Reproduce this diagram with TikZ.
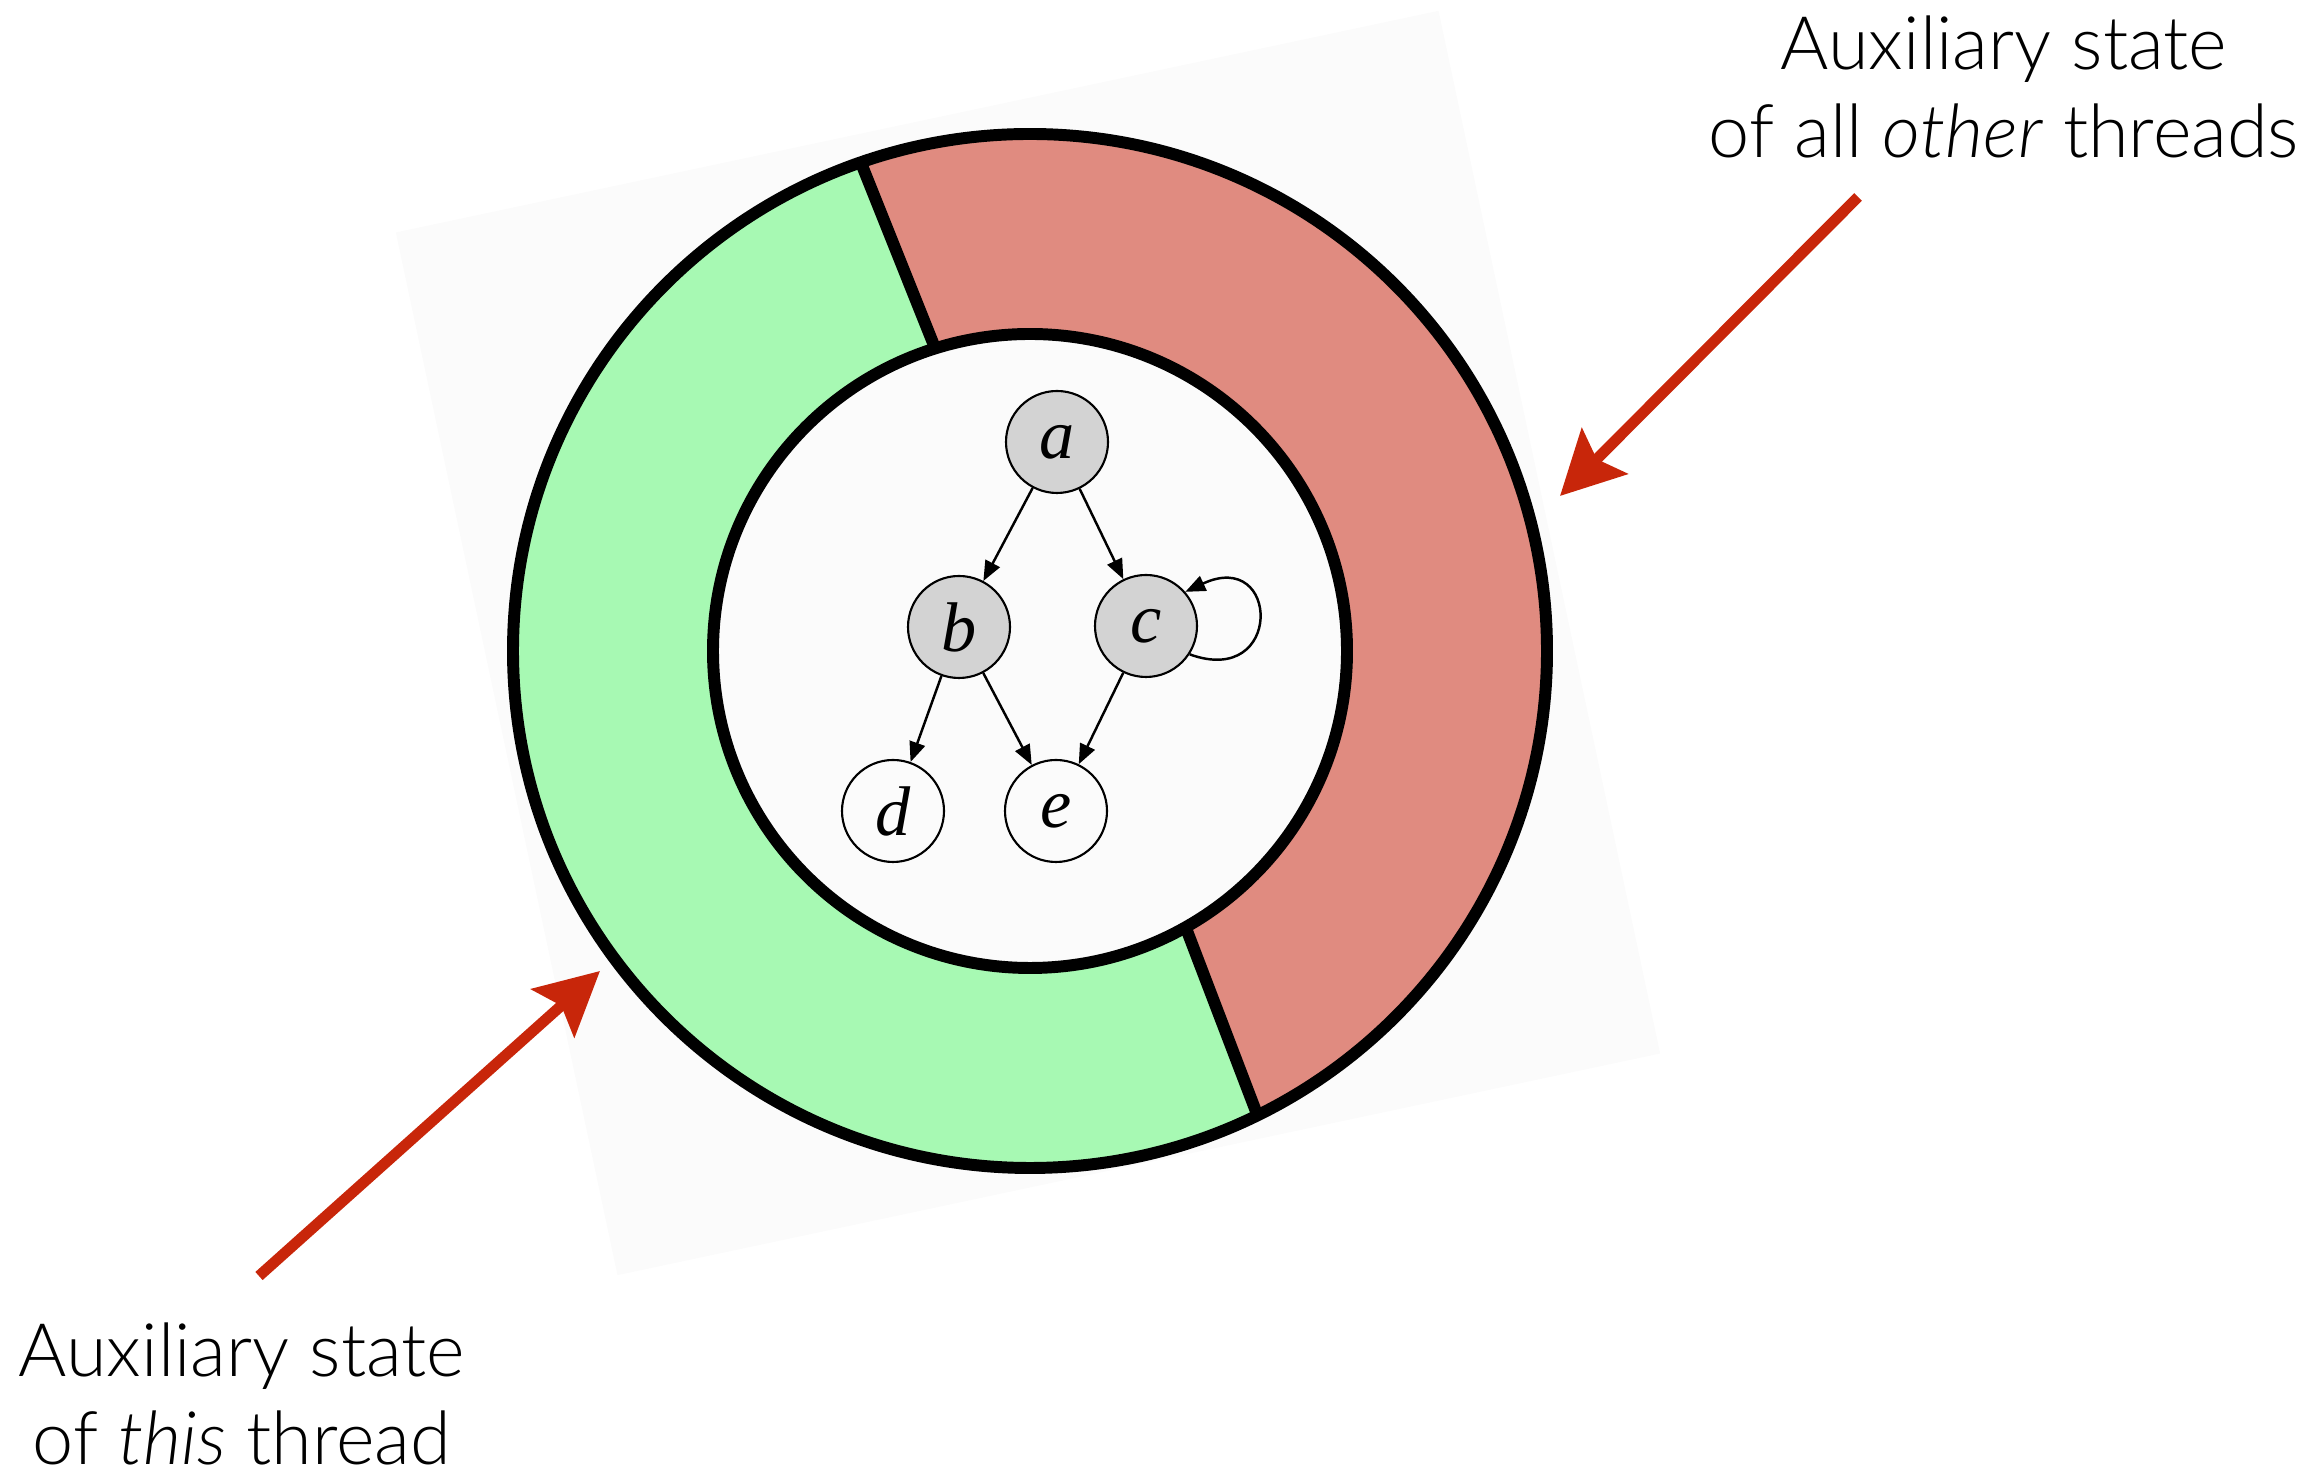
\documentclass[tikz,border=0pt]{standalone}
\usepackage{fontspec}
\IfFontExistsTF{Lato Light}{%
  \IfFontExistsTF{Lato Light Italic}%
    {\setmainfont{Lato Light}[ItalicFont={Lato Light Italic}]}%
    {\setmainfont{Lato Light}}}%
  {\setmainfont{Lato}}
\newfontfamily\graphfont{Liberation Serif}
\usetikzlibrary{arrows.meta}

\definecolor{thisgreen}{RGB}{167,249,179}
\definecolor{othersred}{RGB}{224,139,128}
\definecolor{arrowred}{RGB}{200,38,10}
\definecolor{backdrop}{RGB}{251,251,251}
\definecolor{nodegray}{RGB}{211,211,211}

\tikzset{
  state/.style={circle, draw, line width=0.6pt, minimum size=1.02cm, inner sep=0pt,
    font=\graphfont\itshape\fontsize{20}{24}\selectfont},
  seen/.style={state, fill=nodegray},
  dep/.style={-{Triangle[length=0.2cm,width=0.16cm]}, line width=0.7pt},
  pointer/.style={draw=arrowred, line width=3.1pt,
    -{Stealth[length=0.63cm,width=0.64cm,inset=0.11cm]}},
  caption/.style={align=center, inner sep=0pt, font=\fontsize{21}{25.3}\selectfont}
}

\begin{document}
\begin{tikzpicture}
\useasboundingbox (0,0) rectangle (23.2,14.75);

% tilted backdrop
\begin{scope}[shift={(10.28,8.32)}, rotate=12]
\fill[backdrop] (-5.33,-5.33) rectangle (5.33,5.33);
\end{scope}

% the ring, split in two halves
\coordinate (ring) at (10.30,8.24);
\fill[thisgreen, shift={(ring)}] (109.1:5.17) arc[start angle=109.1, end angle=296.1, radius=5.17]
  -- (299.4:3.17) arc[start angle=299.4, end angle=107.4, radius=3.17] -- cycle;
\fill[othersred, shift={(ring)}] (-63.9:5.17) arc[start angle=-63.9, end angle=109.1, radius=5.17]
  -- (107.4:3.17) arc[start angle=107.4, end angle=-60.6, radius=3.17] -- cycle;
\draw[line width=3.4pt] (ring) circle[radius=5.17] (ring) circle[radius=3.17];
\draw[line width=3.4pt, shift={(ring)}] (107.4:3.17) -- (109.1:5.17) (-60.6:3.17) -- (-63.9:5.17);

% heap graph
\node[seen] (a) at (10.57,10.33) {a};
\node[seen] (b) at (9.59,8.48) {b};
\node[seen] (c) at (11.46,8.49) {c};
\node[state] (d) at (8.93,6.64) {d};
\node[state] (e) at (10.56,6.64) {e};
\draw[dep] (a) -- (b);
\draw[dep] (a) -- (c);
\draw[dep] (b) -- (d);
\draw[dep] (b) -- (e);
\draw[dep] (c) -- (e);
\draw[dep] (c.-33) .. controls +(-20:1.0) and +(25:1.05) .. (c.41);

% labels and pointers
\node[caption, anchor=base] (othersnote) at (20.04,13.17) {Auxiliary state\\of all \textit{other} threads};
\node[caption, anchor=base] (thisnote) at (2.42,0.10) {Auxiliary state\\of \textit{this} thread};
\coordinate (otherstail) at (18.58,12.78);
\coordinate (otherstip) at (15.60,9.79);
\coordinate (thistail) at (2.59,1.99);
\coordinate (thistip) at (6.00,5.04);
\draw[pointer] (otherstail) -- (otherstip);
\draw[pointer] (thistail) -- (thistip);
\end{tikzpicture}
\end{document}
